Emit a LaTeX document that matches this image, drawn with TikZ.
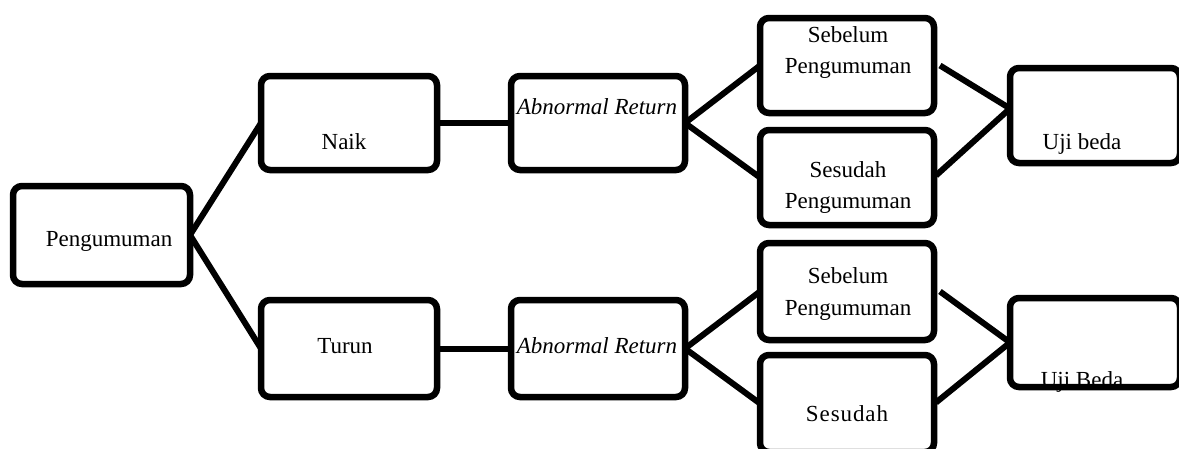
\documentclass[tikz,border=0pt]{standalone}
\usepackage{fontspec}
\setmainfont{Liberation Serif}
\begin{document}
\begin{tikzpicture}[x=1pt,y=-1pt,
  box/.style={draw=black,line width=6.5pt,rounded corners=9pt,inner sep=0pt,outer sep=0pt,fill=white},
  conn/.style={draw=black,line width=6pt},
  txt/.style={inner sep=0pt,font=\fontsize{23}{31}\selectfont,text=black},
  txt2/.style={txt,align=center}]
\useasboundingbox (0,0) rectangle (1179,448);
\clip (0,0) rectangle (1179,448);
% boxes
\node[box,minimum width=177pt,minimum height=98pt] (peng) at (101.5,235) {};
\node[box,minimum width=176pt,minimum height=94pt] (naik) at (349,123) {};
\node[box,minimum width=174pt,minimum height=94pt] (ar1) at (598,123) {};
\node[box,minimum width=176pt,minimum height=97pt] (turun) at (349,348.5) {};
\node[box,minimum width=174pt,minimum height=97pt] (ar2) at (598,348.5) {};
\node[box,minimum width=174pt,minimum height=95pt] (seb1) at (847,65.5) {};
\node[box,minimum width=174pt,minimum height=95pt] (ses1) at (847,177.5) {};
\node[box,minimum width=170pt,minimum height=95pt] (uji1) at (1095,115.5) {};
\node[box,minimum width=174pt,minimum height=97pt] (seb2) at (847,291.5) {};
\node[box,minimum width=174pt,minimum height=97pt] (ses2) at (847,403.5) {};
\node[box,minimum width=170pt,minimum height=89pt] (uji2) at (1095,342.5) {};
\coordinate (u1in) at ([yshift=7pt]uji1.west);
% connectors
\draw[conn] (peng.east) -- (naik.west);
\draw[conn] (peng.east) -- (turun.west);
\draw[conn] (naik.east) -- (ar1.west);
\draw[conn] (turun.east) -- (ar2.west);
\draw[conn] (ar1.east) -- (seb1.west);
\draw[conn] (ar1.east) -- (ses1.west);
\draw[conn] (ar2.east) -- (seb2.west);
\draw[conn] (ar2.east) -- (ses2.west);
\draw[conn] ([xshift=6pt]seb1.east) -- (u1in);
\draw[conn] ([xshift=2pt,yshift=2pt]ses1.east) -- (u1in);
\draw[conn] ([xshift=6pt]seb2.east) -- (uji2.west);
\draw[conn] ([xshift=2pt,yshift=1pt]ses2.east) -- (uji2.west);
% texts
\node[txt,anchor=base] (tpeng) at (109,246) {Pengumuman};
\node[txt,anchor=base] (tnaik) at (344,149) {Naik};
\node[txt,anchor=base] (tar1) at (597,114) {\itshape Abnormal Return};
\node[txt,anchor=base] (tturun) at (345,353) {Turun};
\node[txt,anchor=base] (tar2) at (597,353) {\itshape Abnormal Return};
\node[txt2] (tseb1) at (848,52) {Sebelum\\Pengumuman};
\node[txt2] (tses1) at (848,187.5) {Sesudah\\Pengumuman};
\node[txt,anchor=base] (tuji1) at (1082,149) {Uji beda};
\node[txt2,font=\fontsize{23}{32}\selectfont] (tseb2) at (848,294) {Sebelum\\Pengumuman};
\node[txt,anchor=base] (tses2) at (847,421) {\addfontfeature{LetterSpace=4}Sesudah};
\node[txt,anchor=base] (tuji2) at (1082,387) {Uji Beda};
\end{tikzpicture}
\end{document}
